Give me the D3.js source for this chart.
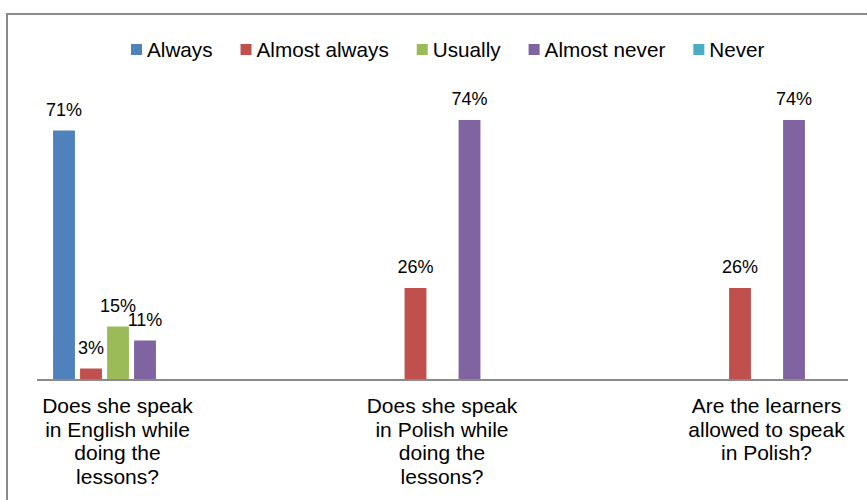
<!DOCTYPE html>
<html>
<head>
<meta charset="utf-8">
<script src="https://cdn.jsdelivr.net/npm/d3@7/dist/d3.min.js"></script>
<style>
  html, body { margin: 0; padding: 0; background: #ffffff; }
  svg { display: block; font-family: "Liberation Sans", Arial, sans-serif; }
</style>
</head>
<body>
<svg id="chart" width="867" height="500"></svg>
<script>
// Survey questions (line breaks as displayed under the axis)
const categories = [
  "Does she speak\nin English while\ndoing the\nlessons?",
  "Does she speak\nin Polish while\ndoing the\nlessons?",
  "Are the learners\nallowed to speak\nin Polish?"
];

const series = ["Always", "Almost always", "Usually", "Almost never", "Never"];
const colors = ["#4F81BD", "#C0504D", "#9BBB59", "#8064A2", "#4BACC6"];

// Share of answers per series, one value per question
const always       = [0.71, 0, 0];
const almostAlways = [0.03, 0.26, 0.26];
const usually      = [0.15, 0, 0];
const almostNever  = [0.11, 0.74, 0.74];
const never        = [0, 0, 0];

const seriesValues = [always, almostAlways, usually, almostNever, never];

const svg = d3.select("#chart");

// Outer chart frame (only left and top edges fall inside the view)
svg.append("rect")
  .attr("x", 7).attr("y", 14)
  .attr("width", 900).attr("height", 540)
  .attr("fill", "none")
  .attr("stroke", "#8a8a8a")
  .attr("stroke-width", 2);

// Scales
const x0 = d3.scalePoint().domain(categories).range([118, 767]);
const x1 = d3.scaleBand().domain(series).range([-67.5, 67.5])
  .paddingInner(0.19).paddingOuter(0.095);
const y = d3.scaleLinear().domain([0, 0.8]).range([379, 99]);
const color = d3.scaleOrdinal().domain(series).range(colors);

const fmt = d3.format(".0%");

const data = [];
categories.forEach((c, ci) => {
  series.forEach((s, si) => {
    data.push({ cat: c, series: s, value: seriesValues[si][ci] });
  });
});
const shown = data.filter(d => d.value > 0);

// Bars
svg.append("g").selectAll("rect")
  .data(shown)
  .join("rect")
  .attr("x", d => x0(d.cat) + x1(d.series))
  .attr("y", d => y(d.value))
  .attr("width", x1.bandwidth())
  .attr("height", d => y(0) - y(d.value))
  .attr("fill", d => color(d.series));

// Value labels
svg.append("g").selectAll("text")
  .data(shown)
  .join("text")
  .attr("x", d => x0(d.cat) + x1(d.series) + x1.bandwidth() / 2)
  .attr("y", d => y(d.value) - 15)
  .attr("text-anchor", "middle")
  .attr("font-size", 18)
  .attr("fill", "#000")
  .text(d => fmt(d.value));

// Category axis line
svg.append("line")
  .attr("x1", 37).attr("x2", 848)
  .attr("y1", y(0) + 1).attr("y2", y(0) + 1)
  .attr("stroke", "#8a8a8a")
  .attr("stroke-width", 2);

// Category labels
const catG = svg.append("g");
categories.forEach(c => {
  const t = catG.append("text")
    .attr("text-anchor", "middle")
    .attr("font-size", 21)
    .attr("fill", "#000");
  c.split("\n").forEach((line, i) => {
    t.append("tspan")
      .attr("x", x0(c) - 0.5)
      .attr("y", 413 + i * 23.5)
      .text(line);
  });
});

// Legend
const legend = svg.append("g");
let lx = 131;
series.forEach(s => {
  legend.append("rect")
    .attr("x", lx).attr("y", 44)
    .attr("width", 11).attr("height", 11)
    .attr("fill", color(s));
  const t = legend.append("text")
    .attr("x", lx + 16).attr("y", 56.5)
    .attr("font-size", 20.7)
    .attr("fill", "#000")
    .text(s);
  lx += 16 + t.node().getComputedTextLength() + 28;
});
</script>
</body>
</html>
